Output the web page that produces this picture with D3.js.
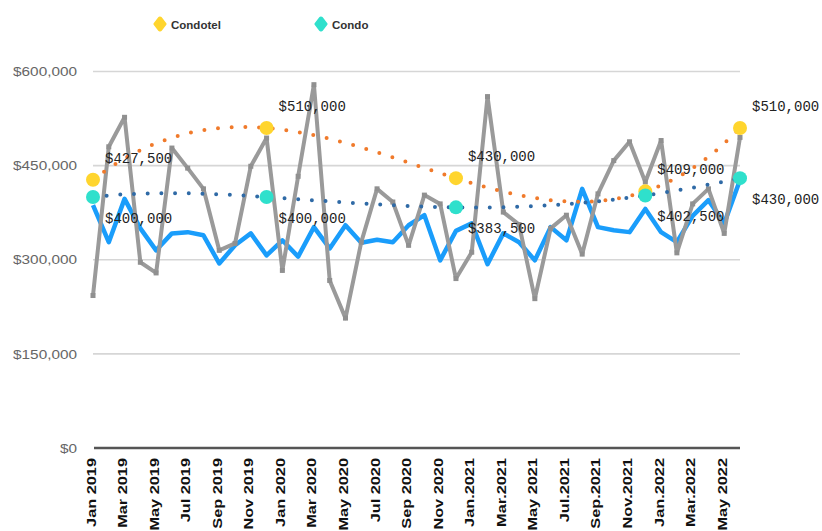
<!DOCTYPE html>
<html>
<head>
<meta charset="utf-8">
<script src="https://cdn.jsdelivr.net/npm/d3@7"></script>
<style>
  html, body { margin: 0; background: #fff; }
  svg { display: block; }
</style>
</head>
<body>
<svg id="chart" width="822" height="531"></svg>
<script>
// Monthly categories, Jan 2019 – Jun 2022
const months = [
  "Jan 2019","Feb 2019","Mar 2019","Apr 2019","May 2019","Jun 2019","Jul 2019","Aug 2019","Sep 2019","Oct 2019","Nov 2019","Dec 2019",
  "Jan 2020","Feb 2020","Mar 2020","Apr 2020","May 2020","Jun 2020","Jul 2020","Aug 2020","Sep 2020","Oct 2020","Nov 2020","Dec 2020",
  "Jan 2021","Feb 2021","Mar 2021","Apr 2021","May 2021","Jun 2021","Jul 2021","Aug 2021","Sep 2021","Oct 2021","Nov 2021","Dec 2021",
  "Jan 2022","Feb 2022","Mar 2022","Apr 2022","May 2022","Jun 2022"
];

// Labels shown on every second month
const tickLabels = [
  "Jan 2019","Mar 2019","May 2019","Jul 2019","Sep 2019","Nov 2019",
  "Jan 2020","Mar 2020","May 2020","Jul 2020","Sep 2020","Nov 2020",
  "Jan.2021","Mar.2021","May 2021","Jul.2021","Sep.2021","Nov.2021",
  "Jan.2022","Mar.2022","May 2022"
];

// Monthly condotel prices (grey line)
const condotelMonthly = [
  243000, 480000, 527000, 296000, 279000, 478000, 446000, 413000, 315000, 326000, 449000, 494000,
  283000, 433000, 579000, 267000, 207000, 328000, 413000, 392000, 323000, 403000, 389000, 270000,
  312000, 560000, 376000, 356000, 238000, 350000, 371000, 309000, 405000, 458000, 488000, 424000,
  490000, 311000, 389000, 413000, 342000, 495000
];

// Monthly condo prices (blue line)
const condoMonthly = [
  387000, 328000, 397000, 350000, 315000, 342000, 344000, 339000, 294000, 323000, 342000, 307000,
  331000, 305000, 352000, 318000, 355000, 327000, 332000, 328000, 355000, 371000, 299000, 346000,
  358000, 293000, 342000, 328000, 299000, 352000, 331000, 413000, 352000, 347000, 344000, 381000,
  344000, 328000, 370000, 395000, 358000, 427000
];

// Period medians shown as dots with value labels
const pointMonths = ["Jan 2019", "Dec 2019", "Dec 2020", "Dec 2021", "Jun 2022"];
const condotelPoints = [427500, 510000, 430000, 409000, 510000];
const condoPoints = [400000, 400000, 383500, 402500, 430000];

const yTicks = [0, 150000, 300000, 450000, 600000];

const svg = d3.select("#chart");

const x = d3.scalePoint().domain(months).range([93, 740]);
const xi = d3.scaleLinear().domain([0, months.length - 1]).range([93, 740]);
const y = d3.scaleLinear().domain([0, 600000]).range([448, 71.5]);
const money = d => "$" + d3.format(",")(d);

// Horizontal gridlines
svg.append("g")
  .selectAll("line")
  .data(yTicks.filter(d => d > 0))
  .join("line")
  .attr("x1", 93).attr("x2", 740)
  .attr("y1", d => y(d)).attr("y2", d => y(d))
  .attr("stroke", "#d6d6d6").attr("stroke-width", 1.6);

// Baseline
svg.append("line")
  .attr("x1", 94).attr("x2", 740)
  .attr("y1", y(0)).attr("y2", y(0))
  .attr("stroke", "#555").attr("stroke-width", 2.6);

// Y axis labels
const yAxis = svg.append("g")
  .attr("transform", "translate(77,0)")
  .call(d3.axisLeft(y).tickValues(yTicks).tickFormat(money).tickSize(0).tickPadding(0));
yAxis.select(".domain").remove();
yAxis.selectAll("text")
  .attr("transform", "scale(1.18,1)")
  .attr("font-family", "Liberation Sans, Arial, sans-serif")
  .attr("font-size", 13)
  .attr("fill", "#666");

// X axis labels
const xAxis = svg.append("g")
  .attr("transform", `translate(0,${y(0)})`)
  .call(d3.axisBottom(x)
    .tickValues(months.filter((d, i) => i % 2 === 0))
    .tickFormat((d, i) => tickLabels[i])
    .tickSize(0));
xAxis.select(".domain").remove();
xAxis.selectAll("text")
  .attr("x", 0).attr("y", 0).attr("dy", 0)
  .attr("text-anchor", "end")
  .attr("transform", "translate(2,10) rotate(-90) scale(1.36,1)")
  .attr("font-family", "Liberation Sans, Arial, sans-serif")
  .attr("font-weight", "bold")
  .attr("font-size", 12)
  .attr("fill", "#111");

// Monthly lines
const line = d3.line().x((d, i) => x(months[i])).y(d => y(d));

svg.append("path")
  .datum(condoMonthly)
  .attr("d", line)
  .attr("fill", "none")
  .attr("stroke", "#1a9dfb")
  .attr("stroke-width", 4.5)
  .attr("stroke-linejoin", "round");

svg.append("path")
  .datum(condotelMonthly)
  .attr("d", line)
  .attr("fill", "none")
  .attr("stroke", "#9a9a9a")
  .attr("stroke-width", 4)
  .attr("stroke-linejoin", "round");

svg.append("g")
  .selectAll("rect")
  .data(condotelMonthly)
  .join("rect")
  .attr("x", (d, i) => x(months[i]) - 2.5)
  .attr("y", d => y(d) - 2.5)
  .attr("width", 5).attr("height", 5)
  .attr("fill", "#909090");

// Polynomial trendline (least squares, degree 4) through the period points
function polyFit(xs, ys, degree) {
  const n = degree + 1;
  const A = Array.from({ length: n }, () => new Array(n + 1).fill(0));
  xs.forEach((xv, k) => {
    for (let r = 0; r < n; r++) {
      for (let c = 0; c < n; c++) A[r][c] += Math.pow(xv, r + c);
      A[r][n] += ys[k] * Math.pow(xv, r);
    }
  });
  for (let p = 0; p < n; p++) {
    let best = p;
    for (let r = p + 1; r < n; r++) if (Math.abs(A[r][p]) > Math.abs(A[best][p])) best = r;
    [A[p], A[best]] = [A[best], A[p]];
    for (let r = 0; r < n; r++) {
      if (r === p) continue;
      const f = A[r][p] / A[p][p];
      for (let c = p; c <= n; c++) A[r][c] -= f * A[p][c];
    }
  }
  const coef = A.map((row, i) => row[n] / row[i]);
  return t => coef.reduce((s, a, i) => s + a * Math.pow(t, i), 0);
}

const last = months.length - 1;
const pointIdx = pointMonths.map(m => months.indexOf(m) / last);

function trend(values) {
  const f = polyFit(pointIdx, values, 4);
  return d3.range(0, last + 0.001, 0.25).map(t => [t, f(t / last)]);
}

const trendLine = d3.line().x(d => xi(d[0])).y(d => y(d[1]));

svg.append("path")
  .datum(trend(condotelPoints))
  .attr("d", trendLine)
  .attr("fill", "none")
  .attr("stroke", "#f07a2b")
  .attr("stroke-width", 4)
  .attr("stroke-linecap", "round")
  .attr("stroke-dasharray", "0 13.7");

svg.append("path")
  .datum(trend(condoPoints))
  .attr("d", trendLine)
  .attr("fill", "none")
  .attr("stroke", "#2f6aa6")
  .attr("stroke-width", 4)
  .attr("stroke-linecap", "round")
  .attr("stroke-dasharray", "0 13.7");

// Period dots
svg.append("g")
  .selectAll("circle")
  .data(condotelPoints)
  .join("circle")
  .attr("cx", (d, i) => x(pointMonths[i]))
  .attr("cy", d => y(d))
  .attr("r", 7)
  .attr("fill", "#ffd52e");

svg.append("g")
  .selectAll("circle")
  .data(condoPoints)
  .join("circle")
  .attr("cx", (d, i) => x(pointMonths[i]))
  .attr("cy", d => y(d))
  .attr("r", 7)
  .attr("fill", "#2fe0cc");

// Value labels
const labelFont = "Liberation Mono, DejaVu Sans Mono, monospace";
svg.append("g")
  .selectAll("text")
  .data(condotelPoints)
  .join("text")
  .attr("x", (d, i) => x(pointMonths[i]) + 12)
  .attr("y", d => y(d) - 17)
  .attr("font-family", labelFont)
  .attr("font-size", 14)
  .attr("fill", "#222")
  .text(money);

svg.append("g")
  .selectAll("text")
  .data(condoPoints)
  .join("text")
  .attr("x", (d, i) => x(pointMonths[i]) + 12)
  .attr("y", d => y(d) + 25.5)
  .attr("font-family", labelFont)
  .attr("font-size", 14)
  .attr("fill", "#222")
  .text(money);

// Legend
const legendItems = [
  { name: "Condotel", color: "#ffd52e", x: 160 },
  { name: "Condo", color: "#2fe0cc", x: 321 }
];
const legend = svg.append("g")
  .selectAll("g")
  .data(legendItems)
  .join("g")
  .attr("transform", d => `translate(${d.x},24)`);
legend.append("path")
  .attr("d", d3.symbol(d3.symbolDiamond, 40))
  .attr("transform", "scale(1.35,1)")
  .attr("fill", d => d.color)
  .attr("stroke", d => d.color)
  .attr("stroke-width", 3)
  .attr("stroke-linejoin", "round");
legend.append("text")
  .attr("x", 11)
  .attr("y", 4.5)
  .attr("font-family", "Liberation Sans, Arial, sans-serif")
  .attr("font-size", 11.5)
  .attr("font-weight", 600)
  .attr("fill", "#333")
  .text(d => d.name);
</script>
</body>
</html>
